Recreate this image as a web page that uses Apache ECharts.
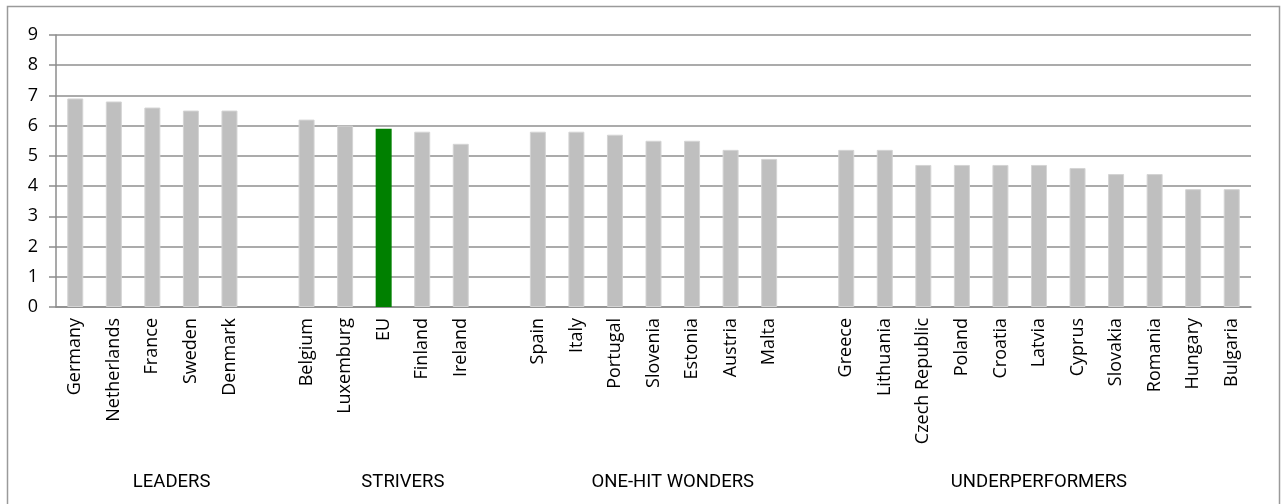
<!DOCTYPE html>
<html>
<head>
<meta charset="utf-8">
<script src="https://cdn.jsdelivr.net/npm/echarts@6/dist/echarts.min.js"></script>
<style>
  html, body { margin: 0; padding: 0; background: #fff; }
  #chart { width: 1284px; height: 504px; }
</style>
</head>
<body>
<div id="chart"></div>
<script>
// ---- data ----
const groupNames = ['LEADERS', 'STRIVERS', 'ONE-HIT WONDERS', 'UNDERPERFORMERS'];

const leaders = ['Germany', 'Netherlands', 'France', 'Sweden', 'Denmark'];
const leadersValues = [6.9, 6.8, 6.6, 6.5, 6.5];

const strivers = ['Belgium', 'Luxemburg', 'EU', 'Finland', 'Ireland'];
const striversValues = [6.2, 6.0, 5.9, 5.8, 5.4];

const oneHitWonders = ['Spain', 'Italy', 'Portugal', 'Slovenia', 'Estonia', 'Austria', 'Malta'];
const oneHitWondersValues = [5.8, 5.8, 5.7, 5.5, 5.5, 5.2, 4.9];

const underperformers = ['Greece', 'Lithuania', 'Czech Republic', 'Poland', 'Croatia', 'Latvia',
  'Cyprus', 'Slovakia', 'Romania', 'Hungary', 'Bulgaria'];
const underperformersValues = [5.2, 5.2, 4.7, 4.7, 4.7, 4.7, 4.6, 4.4, 4.4, 3.9, 3.9];

const highlightCategory = 'EU';
const yTicks = [0, 1, 2, 3, 4, 5, 6, 7, 8, 9];

// ---- build category axis with a blank slot after each group ----
const groups = [
  [leaders, leadersValues],
  [strivers, striversValues],
  [oneHitWonders, oneHitWondersValues],
  [underperformers, underperformersValues]
];
const categories = [];
const values = [];
const groupCenters = []; // center of each group's span (group + trailing blank), in category index units
groups.forEach(function (g, gi) {
  const start = categories.length;
  g[0].forEach(function (c, i) { categories.push(c); values.push(g[1][i]); });
  let end = categories.length - 1;
  if (gi < groups.length - 1) {
    categories.push('');
    values.push(null);
    end = categories.length - 1;
  }
  groupCenters.push((start + end) / 2);
});

const barData = values.map(function (v, i) {
  if (v === null) return '-';
  const isHi = categories[i] === highlightCategory;
  return {
    value: v,
    itemStyle: isHi
      ? { color: '#008000', borderColor: '#008000', borderWidth: 0 }
      : { color: '#BFBFBF', borderColor: '#D4D4D4', borderWidth: 1 }
  };
});

const chart = echarts.init(document.getElementById('chart'), null, { renderer: 'canvas' });
const labelFont = '"Open Sans", "DejaVu Sans", sans-serif';

chart.setOption({
  animation: false,
  backgroundColor: '#ffffff',
  graphic: [{
    type: 'rect',
    shape: { x: 7.5, y: 6.5, width: 1272, height: 520 },
    style: { fill: 'none', stroke: '#9a9a9a', lineWidth: 1.5 },
    silent: true
  }],
  grid: { left: 56, right: 33, top: 35, bottom: 197, containLabel: false },
  xAxis: [{
    type: 'category',
    data: categories,
    boundaryGap: true,
    axisLine: { show: true, onZero: false, lineStyle: { color: '#8c8c8c', width: 1.5 } },
    axisTick: { show: false },
    axisLabel: {
      interval: 0,
      rotate: 90,
      margin: 11,
      color: '#000',
      fontSize: 18,
      fontFamily: labelFont
    },
    splitLine: { show: false }
  }, {
    type: 'value',
    min: -0.5,
    max: categories.length - 0.5,
    position: 'bottom',
    axisLine: { show: false, onZero: false },
    axisTick: { show: false },
    splitLine: { show: false },
    axisLabel: {
      customValues: groupCenters,
      margin: 166,
      color: '#000',
      fontSize: 18.5,
      fontFamily: 'Roboto, "Liberation Sans", sans-serif',
      formatter: function (v) {
        const idx = groupCenters.indexOf(v);
        return idx >= 0 ? groupNames[idx] : '';
      }
    }
  }],
  yAxis: {
    type: 'value',
    min: yTicks[0],
    max: yTicks[yTicks.length - 1],
    interval: 1,
    axisLine: { show: true, onZero: false, lineStyle: { color: '#8c8c8c', width: 1.5 } },
    axisTick: { show: true, inside: false, length: 7, lineStyle: { color: '#8c8c8c', width: 1.5 } },
    axisLabel: {
      margin: 18,
      color: '#000',
      fontSize: 18,
      fontFamily: labelFont
    },
    splitLine: { show: true, lineStyle: { color: '#8f8f8f', width: 1.5 } }
  },
  series: [{
    type: 'bar',
    xAxisIndex: 0,
    data: barData,
    barWidth: 16,
    silent: true
  }]
});
</script>
</body>
</html>
